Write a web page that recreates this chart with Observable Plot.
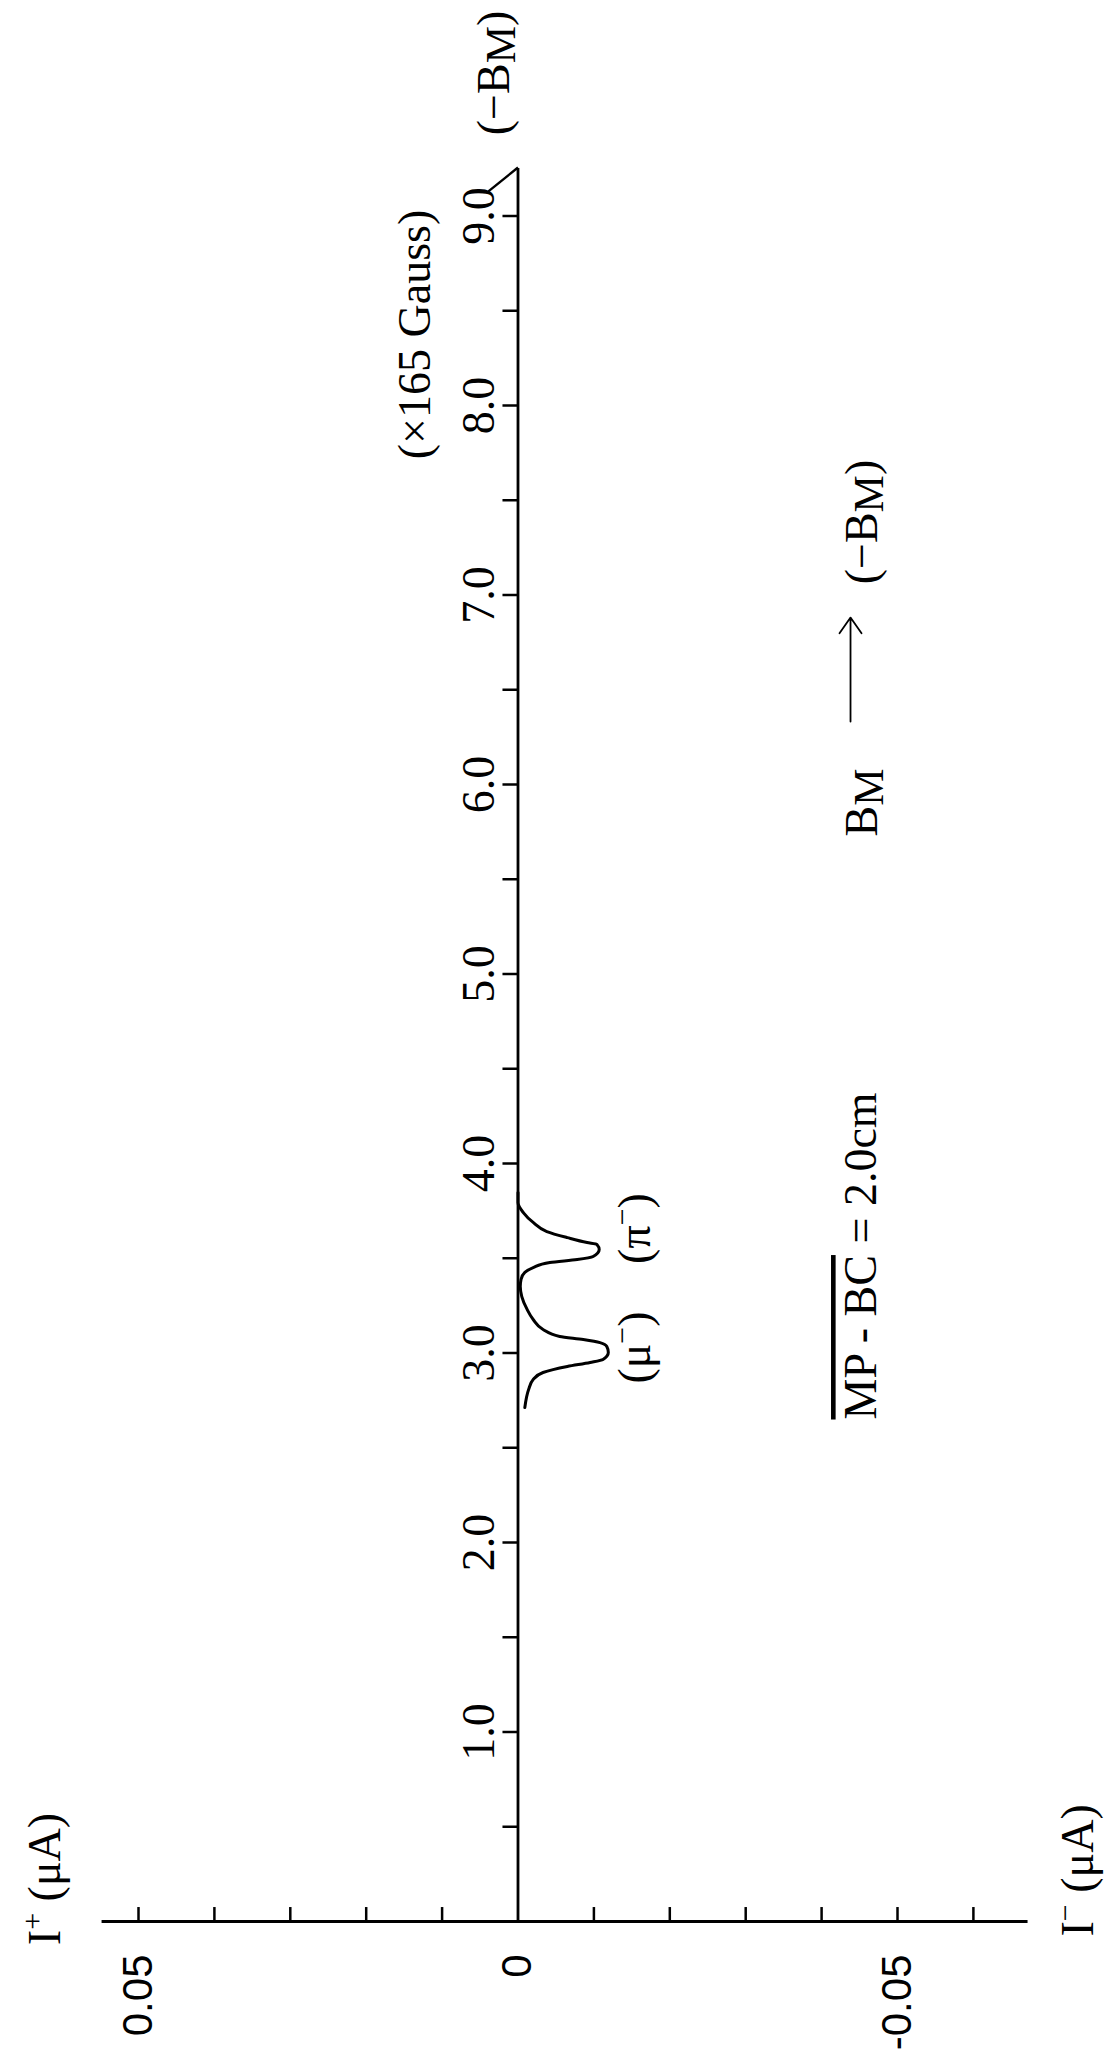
<!DOCTYPE html>
<html>
<head>
<meta charset="utf-8">
<script src="https://cdn.jsdelivr.net/npm/d3@7"></script>
<script src="https://cdn.jsdelivr.net/npm/@observablehq/plot@0.6"></script>
<style>
  html, body { margin: 0; padding: 0; background: #fff; }
  #page { position: relative; width: 1109px; height: 2052px; overflow: hidden; background: #fff; }
  #chart { position: absolute; left: 0; top: 0; width: 2052px; height: 1109px;
           transform-origin: 0 0; transform: translate(0px, 2052px) rotate(-90deg); }
</style>
</head>
<body>
<div id="page"><div id="chart"></div></div>
<script>
// ---- data (magnetic field B in units of 165 Gauss, current I in µA) ----
const fieldTicks = [0.5, 1, 1.5, 2, 2.5, 3, 3.5, 4, 4.5, 5, 5.5, 6, 6.5, 7, 7.5, 8, 8.5, 9];
const fieldLabelValues = [1, 2, 3, 4, 5, 6, 7, 8, 9];
const fieldLabels = ["1.0", "2.0", "3.0", "4.0", "5.0", "6.0", "7.0", "8.0", "9.0"];
const currentTicks = [0.05, 0.04, 0.03, 0.02, 0.01, -0.01, -0.02, -0.03, -0.04, -0.05, -0.06];
const currentLabelValues = [0.05, 0, -0.05];
const currentLabels = ["0.05", "0", "-0.05"];

const fieldB = [2.712, 2.807, 2.860, 2.897, 2.929, 2.950, 2.966, 3.003, 3.034, 3.055, 3.071, 3.087,
                3.124, 3.177, 3.230, 3.298, 3.351, 3.388, 3.425, 3.451, 3.478, 3.493, 3.509, 3.546,
                3.573, 3.583, 3.609, 3.641, 3.689, 3.741, 3.794, 3.847];
const currentI = [-0.0009, -0.0014, -0.0020, -0.0033, -0.0065, -0.0095, -0.0112, -0.0119, -0.0117, -0.0108, -0.0086, -0.0055,
                  -0.0033, -0.0020, -0.0012, -0.0005, -0.0003, -0.0004, -0.0009, -0.0020, -0.0042, -0.0078, -0.0099, -0.0107,
                  -0.0104, -0.0091, -0.0065, -0.0038, -0.0020, -0.0007, 0, 0];

const curve = fieldB.map((b, i) => ({B: b, I: currentI[i]}));

// ---- annotations (position in data units) ----
const notesMiddle = [
  {text: "(×165 Gauss)", B: 8.375, I: 0.01166},
  {text: "(−B_{M})", B: 9.755, I: 0.00125},
  {text: "(μ^{−})", B: 3.029, I: -0.01740},
  {text: "(π^{−})", B: 3.657, I: -0.01740},
  {text: "B_{M}", B: 5.905, I: -0.04736},
  {text: "(−B_{M})", B: 7.385, I: -0.04736}
];
const notesStart = [
  {text: "~{MP - BC} = 2.0cm", B: 2.649, I: -0.04717},
  {text: "I^{+} (μA)", B: -0.125, I: 0.06028},
  {text: "I^{−} (μA)", B: -0.079, I: -0.0757}
];

const SERIF = "'Liberation Serif', 'Times New Roman', serif";
const SANS = "'Liberation Sans', Arial, Helvetica, sans-serif";
const LW = 2.8;

const chart = Plot.plot({
  width: 2052,
  height: 1109,
  margin: 0,
  x: {domain: [0, 9], range: [130, 130 + 9 * 189.5], axis: null},
  y: {domain: [-0.05, 0.05], range: [897, 138], axis: null},
  style: {background: "white", color: "black", fontFamily: SERIF, overflow: "visible"},
  marks: [
    // B axis (zero-current line) with half arrow head
    Plot.ruleY([0], {x1: 0, x2: 9.256, stroke: "black", strokeWidth: LW}),
    Plot.link([0], {x1: 9.256, y1: 0, x2: 9.13, y2: 0.0039, stroke: "black", strokeWidth: 2.4}),
    Plot.ruleX(fieldTicks, {x: d => d, y1: 0, y2: 0.00198, stroke: "black", strokeWidth: 2.5}),
    Plot.text(fieldLabelValues, {x: d => d, y: 0, text: (d, i) => fieldLabels[i], dy: -24.5,
      lineAnchor: "bottom", fontSize: 46, fontFamily: SERIF}),
    // current axis
    Plot.ruleX([0], {y1: 0.0548, y2: -0.0672, stroke: "black", strokeWidth: LW}),
    Plot.ruleY(currentTicks, {y: d => d, x1: 0, x2: 0.079, stroke: "black", strokeWidth: 2.5}),
    Plot.text(currentLabelValues, {x: 0, y: d => d, text: (d, i) => currentLabels[i], textAnchor: "end",
      dx: -33, fontSize: 42, fontFamily: SANS}),
    // measured curve
    Plot.line(curve, {x: "B", y: "I", curve: "monotone-x", stroke: "black", strokeWidth: 3}),
    // arrow B_M -> (-B_M)
    Plot.arrow([0], {x1: 6.332, y1: -0.04381, x2: 6.881, y2: -0.04381, stroke: "black",
      strokeWidth: 1.8, headLength: 16, headAngle: 70}),
    // annotations
    Plot.text(notesMiddle, {x: "B", y: "I", text: "text", textAnchor: "middle", lineAnchor: "bottom",
      fontSize: 46, fontFamily: SERIF}),
    Plot.text(notesStart, {x: "B", y: "I", text: "text", textAnchor: "start", lineAnchor: "bottom",
      fontSize: 46, fontFamily: SERIF})
  ]
});

// rich text: _{sub}, ^{sup}, ~{overline}
d3.select(chart).selectAll("text").each(function () {
  const t = this.textContent;
  if (!/[_^~]\{/.test(t)) return;
  this.textContent = "";
  const sel = d3.select(this);
  const re = /([_^~])\{([^}]*)\}/g;
  let last = 0, m;
  while ((m = re.exec(t))) {
    if (m.index > last) sel.append("tspan").text(t.slice(last, m.index));
    const ts = sel.append("tspan").text(m[2]);
    if (m[1] === "_") ts.attr("baseline-shift", "-6").attr("font-size", "42");
    else if (m[1] === "^") ts.attr("baseline-shift", "18").attr("font-size", "30");
    else ts.attr("text-decoration", "overline");
    last = re.lastIndex;
  }
  if (last < t.length) sel.append("tspan").text(t.slice(last));
});

document.getElementById("chart").appendChild(chart);
</script>
</body>
</html>
